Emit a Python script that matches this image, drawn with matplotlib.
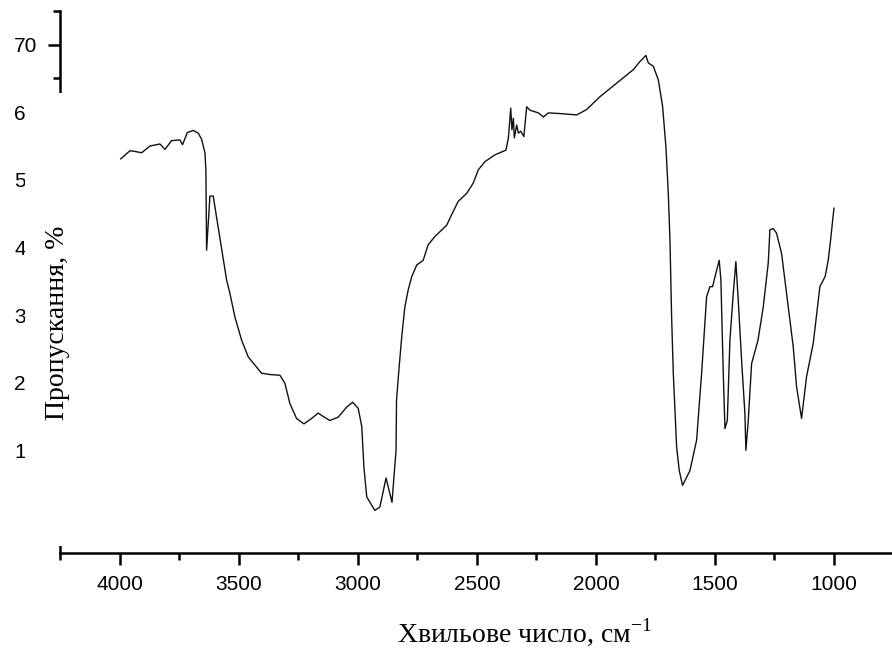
import matplotlib.pyplot as plt
from matplotlib.patches import Rectangle

# IR spectrum (wavenumber, cm-1 / transmittance, %)
wavenumber = [3997, 3958, 3937, 3909, 3874, 3832, 3811, 3783, 3748, 3737,
              3717, 3692, 3671, 3657, 3643, 3639, 3636, 3627, 3622, 3608,
              3597, 3552, 3538, 3517, 3489, 3461, 3405, 3370, 3328, 3307,
              3286, 3258, 3227, 3195, 3167, 3146, 3118, 3083, 3047, 3022,
              2999, 2984, 2975, 2963, 2929, 2908, 2882, 2857, 2840, 2838,
              2827, 2816, 2803, 2789, 2774, 2753, 2726, 2705, 2677, 2627,
              2607, 2579, 2543, 2516, 2494, 2466, 2424, 2378, 2368, 2358,
              2353, 2347, 2343, 2333, 2326, 2316, 2303, 2291, 2277, 2242,
              2221, 2200, 2151, 2081, 2039, 1983, 1913, 1843, 1815, 1790,
              1780, 1759, 1738, 1720, 1706, 1696, 1689, 1682, 1675, 1661,
              1650, 1636, 1605, 1577, 1556, 1535, 1521, 1510, 1496, 1482,
              1475, 1465, 1458, 1448, 1437, 1423, 1412, 1402, 1388, 1374,
              1370, 1360, 1346, 1319, 1297, 1276, 1269, 1255, 1241, 1220,
              1199, 1171, 1157, 1136, 1115, 1087, 1059, 1037, 1024, 1014,
              1000]
transmittance = [53.1, 54.3, 54.2, 54.0, 55.0, 55.3, 54.5, 55.8, 55.9, 55.2,
                 57.0, 57.3, 56.9, 56.0, 54.0, 51.5, 39.6, 44.6, 47.6, 47.6,
                 45.1, 35.2, 33.2, 29.7, 26.3, 23.8, 21.4, 21.2, 21.1, 19.9,
                 16.9, 14.7, 13.9, 14.7, 15.5, 15.0, 14.4, 14.9, 16.4, 17.1,
                 16.2, 13.5, 7.5, 3.1, 1.1, 1.6, 5.9, 2.3, 10.0, 17.4,
                 22.3, 26.8, 31.2, 33.7, 35.7, 37.4, 38.1, 40.4, 41.6, 43.3,
                 44.8, 46.8, 48.0, 49.5, 51.5, 52.7, 53.7, 54.4, 56.2, 60.6,
                 57.4, 59.1, 56.2, 58.1, 56.9, 57.2, 56.4, 60.8, 60.3, 59.9,
                 59.3, 59.9, 59.8, 59.6, 60.4, 62.3, 64.3, 66.3, 67.5, 68.4,
                 67.3, 66.8, 64.8, 60.9, 54.9, 48.0, 41.1, 29.7, 21.4, 10.5,
                 7.0, 4.8, 7.0, 11.5, 21.4, 32.7, 34.2, 34.2, 36.2, 38.1,
                 35.2, 21.4, 13.2, 14.4, 26.3, 33.2, 37.9, 32.2, 23.3, 15.4,
                 10.0, 14.4, 22.8, 26.3, 31.2, 37.7, 42.6, 42.8, 42.1, 39.1,
                 33.2, 25.3, 19.4, 14.7, 20.9, 25.8, 34.2, 35.7, 38.1, 41.1,
                 45.8]

x_ticks = [4000, 3500, 3000, 2500, 2000, 1500, 1000]
y_ticks = [10, 20, 30, 40, 50, 60, 70]

plt.rcParams['mathtext.fontset'] = 'custom'
plt.rcParams['mathtext.rm'] = 'Liberation Serif'

fig = plt.figure(figsize=(8.92, 6.51), dpi=100)
ax = fig.add_axes([0.0678, 0.1505, 0.9322, 0.8329])

ax.plot(wavenumber, transmittance, '-', color='#111111', lw=1.0, zorder=2)

ax.set_xlim(4250, 756)
ax.set_ylim(-5.2, 75)

ax.set_xticks(x_ticks)
ax.set_xticks(range(4250, 750, -500), minor=True)
ax.set_yticks(y_ticks)
ax.set_yticks([65, 75], minor=True)

for s in ['top', 'right']:
    ax.spines[s].set_visible(False)
for s in ['left', 'bottom']:
    ax.spines[s].set_linewidth(1.8)
ax.spines['left'].set_zorder(1.6)

ax.tick_params(which='major', direction='out', length=8.5, width=1.8,
               labelsize=15)
ax.tick_params(axis='y', which='major', pad=8)
ax.tick_params(axis='x', which='major', pad=7)
ax.tick_params(which='minor', direction='out', length=5, width=1.8)
for lab in ax.get_xticklabels() + ax.get_yticklabels():
    lab.set_family('Liberation Sans')

# white sheet pasted over the lower part of the y axis
ax.add_patch(Rectangle((25 / 892, 105 / 651), 1.0, 453 / 651,
                       transform=fig.transFigure, facecolor='white',
                       edgecolor='none', clip_on=False, zorder=1.7))

fig.text(57 / 892, (651 - 323) / 651, 'Пропускання, %',
         rotation=90, ha='center', va='center', family='Liberation Serif',
         fontsize=20, zorder=3)
fig.text(525 / 892, 9 / 651, 'Хвильове число, см$^{\\mathrm{-1}}$',
         ha='center', va='baseline', family='Liberation Serif', fontsize=20)

fig.savefig('out.png', dpi=100)
